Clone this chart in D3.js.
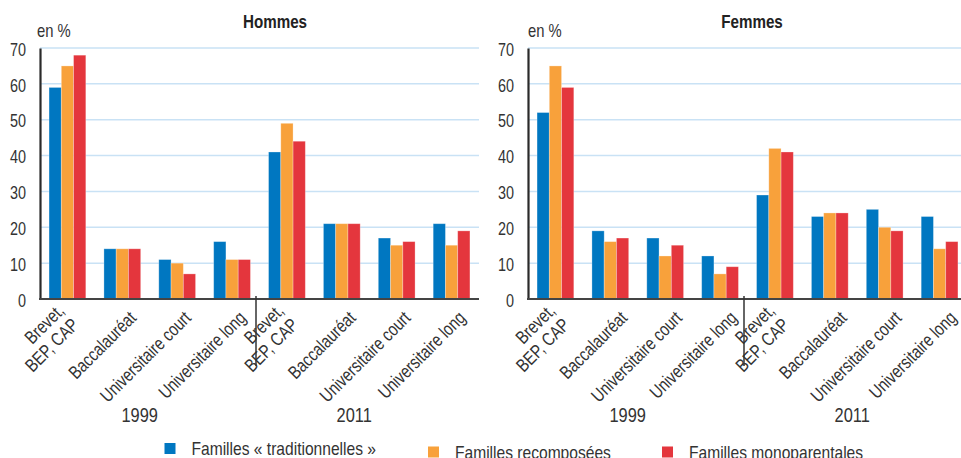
<!DOCTYPE html>
<html><head><meta charset="utf-8">
<script src="https://cdn.jsdelivr.net/npm/d3@7"></script>
<style>
html,body{margin:0;padding:0;background:#fff;}
svg{display:block;font-family:"Liberation Sans",Arial,sans-serif;}
</style></head><body>
<svg id="c" width="961" height="458"></svg>
<script>
const categories = ["Brevet,|BEP, CAP","Baccalauréat","Universitaire court","Universitaire long"];
const years = ["1999","2011"];
const seriesNames = ["Familles « traditionnelles »","Familles recomposées","Familles monoparentales"];
const colors = ["#0077c1","#f8a13b","#e4363d"];
const yTicks = [0,10,20,30,40,50,60,70];
// Hommes: values per category, 1999 then 2011
const hommesTrad   = [59,14,11,16, 41,21,17,21];
const hommesRecomp = [65,14,10,11, 49,21,15,15];
const hommesMono   = [68,14,7,11,  44,21,16,19];
// Femmes
const femmesTrad   = [52,19,17,12, 29,23,25,23];
const femmesRecomp = [65,16,12,7,  42,24,20,14];
const femmesMono   = [59,17,15,9,  41,24,19,16];

const panels = [
  {title:"Hommes", series:[hommesTrad,hommesRecomp,hommesMono], x0:40, x1:479, titleX:275, unitX:37, yearOff:[-10,-15], labelOff:15},
  {title:"Femmes", series:[femmesTrad,femmesRecomp,femmesMono], x0:528, x1:967, titleX:752, unitX:528, yearOff:[-10,-5], labelOff:18}
];

const SQ = 0.8;
function squeeze(sel, f){
  sel.each(function(){
    const w = this.getComputedTextLength();
    if(w>0){ d3.select(this).attr("textLength", w*(f||SQ)).attr("lengthAdjust","spacingAndGlyphs"); }
  });
}

const svg = d3.select("#c");
const y = d3.scaleLinear().domain([0,70]).range([299,48]);
const keys = [];
years.forEach(yr=>categories.forEach(c=>keys.push(yr+"|"+c)));

panels.forEach(p=>{
  const g = svg.append("g");
  const x = d3.scaleBand().domain(keys).range([p.x0,p.x1]).paddingInner(0.33).paddingOuter(0.165);
  const xs = d3.scaleBand().domain([0,1,2]).range([0,x.bandwidth()]);
  const xEnd = Math.min(p.x1,961);

  // gridlines
  g.append("g").selectAll("line").data(yTicks.filter(d=>d>0)).join("line")
    .attr("x1",p.x0).attr("x2",xEnd).attr("y1",d=>y(d)).attr("y2",d=>y(d))
    .attr("stroke","#c9e2f5").attr("stroke-width",1.5);

  // bars
  p.series.forEach((vals,si)=>{
    g.append("g").selectAll("rect").data(vals).join("rect")
      .attr("x",(d,i)=>x(keys[i])+xs(si))
      .attr("width",xs.bandwidth())
      .attr("y",d=>y(d))
      .attr("height",d=>y(0)-y(d))
      .attr("fill",colors[si])
      .attr("stroke","rgba(255,255,255,0.35)").attr("stroke-width",0.8);
  });

  // y axis
  const ya = d3.axisLeft(y).tickValues(yTicks).tickSize(0).tickPadding(14);
  const yg = g.append("g").attr("transform",`translate(${p.x0},0)`).call(ya);
  yg.select(".domain").attr("stroke","#2a2a2a").attr("stroke-width",2.2);
  yg.selectAll("text").attr("font-size",18).attr("fill","#333").attr("font-family","inherit").attr("dy","0.4em");
  squeeze(yg.selectAll("text"));

  // x axis line
  g.append("line").attr("x1",p.x0-1).attr("x2",xEnd).attr("y1",y(0)).attr("y2",y(0))
    .attr("stroke","#444").attr("stroke-width",2);

  // separator between years
  const step = x.step();
  const sepX = x(keys[4]) - (step - x.bandwidth())/2 - 3.5;
  g.append("line").attr("x1",sepX).attr("x2",sepX).attr("y1",y(0)-3).attr("y2",366)
    .attr("stroke","#333").attr("stroke-width",1.5);

  // category labels
  keys.forEach(k=>{
    const cat = k.split("|").slice(1).join("|");
    const lines = cat.split("|");
    const cx = x(k)+x.bandwidth()/2;
    const lg = g.append("g").attr("transform",`translate(${cx+p.labelOff},319) rotate(-45)`);
    if(lines.length===1){
      lg.append("text").attr("text-anchor","end").attr("font-size",18.5).attr("fill","#333").text(lines[0]);
    } else {
      lg.append("text").attr("text-anchor","end").attr("font-size",18.5).attr("fill","#333")
        .attr("x",-7).attr("y",-17).text(lines[0]);
      lg.append("text").attr("text-anchor","end").attr("font-size",18.5).attr("fill","#333")
        .attr("x",-7).attr("y",3).text(lines[1]);
    }
    squeeze(lg.selectAll("text"));
  });

  // year labels
  years.forEach((yr,yi)=>{
    const first = x(keys[yi*4]), last = x(keys[yi*4+3])+x.bandwidth();
    const t = g.append("text").attr("x",(first+last)/2 + p.yearOff[yi]).attr("y",422)
      .attr("text-anchor","middle").attr("font-size",20.5).attr("fill","#333").text(yr);
    squeeze(t);
  });

  // title & unit
  const tt = g.append("text").attr("x",p.titleX).attr("y",28).attr("text-anchor","middle")
    .attr("font-size",18.5).attr("font-weight","bold").attr("fill","#222").text(p.title);
  squeeze(tt, 0.82);
  const ut = g.append("text").attr("x",p.unitX).attr("y",37).attr("font-size",18.5).attr("fill","#333").text("en %");
  squeeze(ut);
});

// legend
const legendX = [164.5,428,662];
const legendY = [448.5,452,452];
const lgd = svg.append("g");
seriesNames.forEach((n,i)=>{
  lgd.append("rect").attr("x",legendX[i]).attr("y",legendY[i]-5.5).attr("width",11).attr("height",11).attr("fill",colors[i]);
  const t = lgd.append("text").attr("x",legendX[i]+27).attr("y",legendY[i]+6.5).attr("font-size",19).attr("fill","#333").text(n);
  squeeze(t, 0.82);
});
</script>
</body></html>
